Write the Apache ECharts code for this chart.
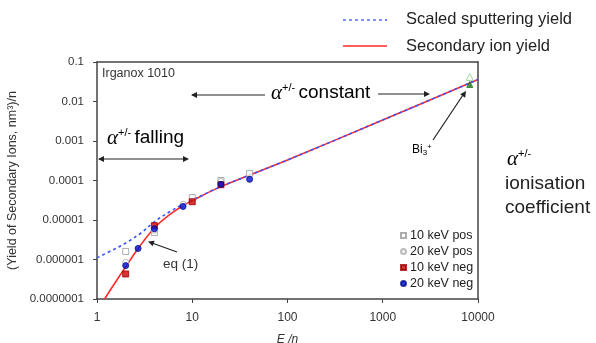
<!DOCTYPE html>
<html>
<head>
<meta charset="utf-8">
<script src="https://cdn.jsdelivr.net/npm/echarts@6/dist/echarts.min.js"></script>
<style>
  html, body { margin: 0; padding: 0; background: #fff; }
  #chart { width: 596px; height: 343px; }
</style>
</head>
<body>
<div id="chart"></div>
<script>
// curves
var sputterCurve = [[1, 1.1e-6], [1.5, 1.8e-6], [2, 2.6e-6], [3, 5e-6], [4, 9e-6], [6, 1.7e-5], [8, 2.5e-5], [10, 3.2e-5], [20, 7e-5], [100, 3.3e-4], [1000, 3.4e-3], [10000, 0.036]]
var ionCurve = [[1.2, 1e-7], [1.5, 2.3e-7], [2, 6.5e-7], [2.7, 1.9e-6], [4, 6.3e-6], [6, 1.45e-5], [8, 2.3e-5], [10, 3.1e-5], [20, 7e-5], [100, 3.3e-4], [1000, 3.4e-3], [10000, 0.036]]

// measured points
var pos10 = [[2, 1.6e-6], [4, 4.8e-6], [10, 3.7e-5], [20, 1.0e-4], [40, 1.5e-4]]
var pos20 = [[2, 8.5e-7], [4, 5.5e-6], [8, 2.5e-5], [20, 9.5e-5]]
var neg10 = [[2, 4.3e-7], [4, 7.2e-6], [10, 2.9e-5], [20, 7.8e-5]]
var neg20 = [[2, 7e-7], [2.7, 1.9e-6], [4, 6e-6], [8, 2.2e-5], [20, 8e-5], [40, 1.07e-4]]
var bi3Pos = [[8200, 0.042]]
var bi3Neg = [[8200, 0.027]]

var xTicks = [1, 10, 100, 1000, 10000]
var yTicks = [0.0000001, 0.000001, 0.00001, 0.0001, 0.001, 0.01, 0.1]

var font = 'Liberation Sans, Arial, sans-serif'

function yLabel(v) {
  // plain decimal like the original, no exponent
  var d = Math.max(0, -Math.round(Math.log10(v)))
  return v.toFixed(d)
}

function xLabel(v) {
  return String(Math.round(v))
}

function arrowHead(x, y, ang) {
  // small filled triangle pointing along ang (radians)
  var l = 6, w = 3
  var bx = x - l * Math.cos(ang), by = y - l * Math.sin(ang)
  var px = -Math.sin(ang) * w, py = Math.cos(ang) * w
  return {
    type: 'polygon',
    shape: { points: [[x, y], [bx + px, by + py], [bx - px, by - py]] },
    style: { fill: '#222' }
  }
}

function arrowLine(x1, y1, x2, y2) {
  return {
    type: 'line',
    shape: { x1: x1, y1: y1, x2: x2, y2: y2 },
    style: { stroke: '#222', lineWidth: 1.2 }
  }
}

var alphaRich = {
  a: { fontFamily: 'Liberation Serif, Times New Roman, serif', fontStyle: 'italic', fontSize: 21, color: '#222' },
  s: { fontFamily: font, fontSize: 11, color: '#222', verticalAlign: 'top', padding: [0, 0, 11, 0] },
  t: { fontFamily: font, fontSize: 19, color: '#222' }
}

var myChart = echarts.init(document.getElementById('chart'))

var markerSeries = function (name, data, symbol, size, fill, stroke) {
  return {
    name: name,
    type: 'scatter',
    data: data,
    symbol: symbol,
    symbolSize: size,
    z: 5,
    itemStyle: { color: fill, borderColor: stroke, borderWidth: 1 }
  }
}

var option = {
  animation: false,
  grid: { left: 97, top: 62, width: 381, height: 237, containLabel: false, outerBoundsMode: 'none' },
  legend: [{
    data: ['Scaled sputtering yield', 'Secondary ion yield'],
    orient: 'vertical',
    left: 340,
    top: 6,
    itemWidth: 46,
    itemHeight: 14,
    itemGap: 10,
    icon: 'none',
    textStyle: { fontFamily: font, fontSize: 16.5, color: '#222', padding: [0, 0, 0, 10] }
  }, {
    data: ['10 keV pos', '20 keV pos', '10 keV neg', '20 keV neg'],
    orient: 'vertical',
    left: 395,
    top: 224,
    itemWidth: 5,
    itemHeight: 5,
    itemGap: 3,
    textStyle: { fontFamily: font, fontSize: 12.5, color: '#222', padding: [0, 0, 0, -1] }
  }],
  xAxis: [{
    type: 'log',
    logBase: 10,
    min: 1,
    max: 10000,
    name: 'E /n',
    nameLocation: 'middle',
    nameGap: 35,
    nameTextStyle: { fontFamily: font, fontSize: 12, fontStyle: 'italic', color: '#333' },
    axisLine: { lineStyle: { color: '#444', width: 1.5 } },
    axisTick: { show: true, length: 4, lineStyle: { color: '#444' } },
    minorTick: { show: false },
    splitLine: { show: false },
    axisLabel: { fontFamily: font, fontSize: 12, color: '#333', margin: 13, formatter: xLabel }
  }, {
    type: 'log',
    min: 1,
    max: 10000,
    position: 'top',
    axisLine: { onZero: false, lineStyle: { color: '#444', width: 1.5 } },
    axisTick: { show: false },
    axisLabel: { show: false },
    splitLine: { show: false }
  }],
  yAxis: [{
    type: 'log',
    logBase: 10,
    min: 0.0000001,
    max: 0.1,
    name: '(Yield of Secondary Ions, nm³)/n',
    nameLocation: 'middle',
    nameGap: 70,
    nameTextStyle: { fontFamily: font, fontSize: 12.5, color: '#333' },
    axisLine: { show: true, lineStyle: { color: '#444', width: 1.5 } },
    axisTick: { show: true, length: 4, lineStyle: { color: '#444' } },
    splitLine: { show: false },
    axisLabel: { fontFamily: font, fontSize: 11.5, color: '#333', margin: 13, formatter: yLabel }
  }, {
    type: 'log',
    min: 0.0000001,
    max: 0.1,
    position: 'right',
    axisLine: { show: true, onZero: false, lineStyle: { color: '#444', width: 1.5 } },
    axisTick: { show: false },
    axisLabel: { show: false },
    splitLine: { show: false }
  }],
  series: [
    {
      name: 'Secondary ion yield',
      type: 'line',
      data: ionCurve,
      smooth: 0.35,
      showSymbol: false,
      symbol: 'none',
      color: '#ff2a2a',
      lineStyle: { color: '#ff2a2a', width: 1.6 },
      z: 2
    },
    {
      name: 'Scaled sputtering yield',
      type: 'line',
      data: sputterCurve,
      smooth: 0.35,
      showSymbol: false,
      symbol: 'none',
      color: '#3a55ff',
      lineStyle: { color: '#3a55ff', width: 1.6, type: [3, 3] },
      z: 3
    },
    markerSeries('10 keV pos', pos10, 'rect', 6, '#fff', '#999'),
    markerSeries('20 keV pos', pos20, 'circle', 6, '#fff', '#aaa'),
    markerSeries('10 keV neg', neg10, 'rect', 6, '#d00000', '#a00000'),
    markerSeries('20 keV neg', neg20, 'circle', 6, '#0010d0', '#000a90'),
    markerSeries('Bi3 pos', bi3Pos, 'triangle', 7, '#fff', '#88cc88'),
    markerSeries('Bi3 neg', bi3Neg, 'triangle', 6, '#1a7a1a', '#1a7a1a')
  ],
  graphic: [
    // legend line icons
    { type: 'line', shape: { x1: 343, y1: 20, x2: 387, y2: 20 }, style: { stroke: '#3a55ff', lineWidth: 1.3, lineDash: [3, 3] } },
    { type: 'line', shape: { x1: 343, y1: 46, x2: 387, y2: 46 }, style: { stroke: '#ff2a2a', lineWidth: 1.5 } },
    { type: 'text', left: 102, top: 67, style: { text: 'Irganox 1010', fontFamily: font, fontSize: 12.5, fill: '#333' } },
    // alpha falling
    { type: 'text', left: 107, top: 127, style: { text: '{a|α}{s|+/-} {t|falling}', rich: alphaRich } },
    arrowLine(99, 159, 187, 159),
    arrowHead(98, 159, Math.PI),
    arrowHead(189, 159, 0),
    // alpha constant
    arrowLine(192, 95, 265, 95),
    arrowHead(191, 95, Math.PI),
    { type: 'text', left: 271, top: 82, style: { text: '{a|α}{s|+/-} {t|constant}', rich: alphaRich } },
    arrowLine(378, 94, 428, 94),
    arrowHead(430, 94, 0),
    // eq (1)
    { type: 'text', left: 163, top: 257, style: { text: 'eq (1)', fontFamily: font, fontSize: 13.5, fill: '#333' } },
    arrowLine(177, 252, 152, 243),
    arrowHead(148, 241.5, Math.atan2(241.5 - 252, 148 - 177)),
    // Bi3+
    { type: 'text', left: 412, top: 143, style: { text: '{b|Bi}{c|3}{d|+}', rich: {
      b: { fontFamily: font, fontSize: 12, color: '#333' },
      c: { fontFamily: font, fontSize: 8, color: '#333', verticalAlign: 'bottom', padding: [6, 0, 0, 0] },
      d: { fontFamily: font, fontSize: 8, color: '#333', verticalAlign: 'top', padding: [0, 0, 6, 0] }
    } } },
    arrowLine(433, 140, 463, 95),
    arrowHead(466, 91, Math.atan2(91 - 140, 466 - 433)),
    // right side note
    { type: 'text', left: 507, top: 148, style: { text: '{a|α}{s|+/-}', rich: alphaRich } },
    { type: 'text', left: 505, top: 174, style: { text: 'ionisation', fontFamily: font, fontSize: 19, fill: '#222' } },
    { type: 'text', left: 505, top: 198, style: { text: 'coefficient', fontFamily: font, fontSize: 19, fill: '#222' } }
  ]
}

myChart.setOption(option)
</script>
</body>
</html>
